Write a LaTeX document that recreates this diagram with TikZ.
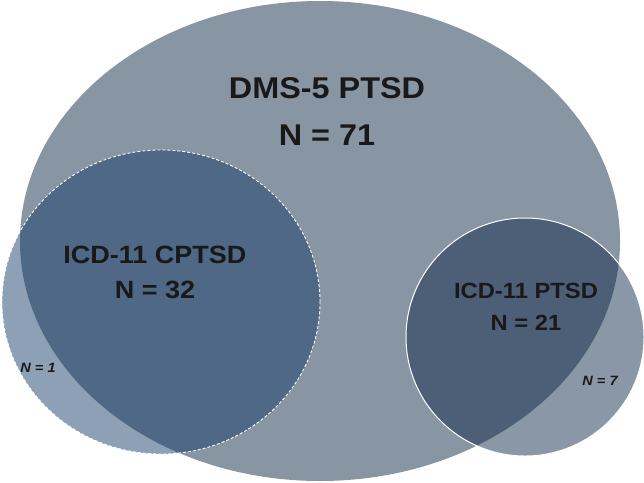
\documentclass[tikz,border=0pt]{standalone}
\usepackage{fontspec}
\setmainfont{Liberation Sans}[FakeStretch=1.08]
\usetikzlibrary{shapes.geometric, positioning}
\definecolor{dsmgray}{RGB}{136,149,163}
\definecolor{cptsdblue}{RGB}{18,57,101}
\definecolor{ptsdblue}{RGB}{11,38,70}
\tikzset{
    vennset/.style={ellipse, inner sep=0pt, outer sep=0pt},
    icdset/.style={vennset, fill opacity=0.48, draw=white},
    countlabel/.style={align=center, text=black!90, inner sep=0pt}
}
\begin{document}
\begin{tikzpicture}[
    x=1pt, y=-1pt,
    title/.style={countlabel, font=\bfseries\fontsize{30}{47}\selectfont},
    subtitle/.style={countlabel, font=\bfseries\fontsize{25}{35}\selectfont},
    onlyset/.style={countlabel, font=\bfseries\itshape\fontsize{13.5}{16}\selectfont}
]
    \useasboundingbox (0,0) rectangle (644,482);

    % Sets (DSM-5 below, the two ICD-11 sets on top)
    \node[vennset, fill=dsmgray, minimum width=600pt, minimum height=480pt] (dsm) at (320,241) {};
    \node[icdset, fill=cptsdblue, densely dashed, line width=0.9pt,
          minimum width=318pt, minimum height=304pt] (cptsd) at (161,302) {};
    \node[icdset, fill=ptsdblue, line width=1pt, minimum size=238pt] (ptsd) at (525,337) {};

    % Counts
    \node[title] (dsm label) at (327,112) {DMS-5 PTSD\\N = 71};
    \node[subtitle] (cptsd label) at (155,272) {ICD-11 CPTSD\\N = 32};
    \node[countlabel, font=\bfseries\fontsize{22}{32}\selectfont] (ptsd label) at (526,307) {ICD-11 PTSD\\N = 21};

    % Cases outside DSM-5
    \node[onlyset] (cptsd only) at (38,368) {N = 1};
    \node[onlyset] (ptsd only) at (600,381) {N = 7};
\end{tikzpicture}
\end{document}
